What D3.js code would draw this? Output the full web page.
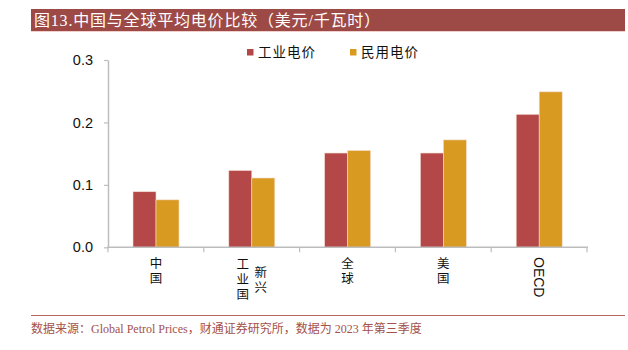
<!DOCTYPE html>
<html><head><meta charset="utf-8">
<script src="https://cdn.jsdelivr.net/npm/d3@7"></script>
<style>body{margin:0;background:#fff}svg{display:block}</style>
</head><body>
<svg id="c" width="628" height="350"></svg>
<script>
const categories = ["中国", "新兴工业国", "全球", "美国", "OECD"];
const seriesNames = ["工业电价", "民用电价"];
const industrial = [0.089, 0.123, 0.151, 0.151, 0.213];
const residential = [0.076, 0.111, 0.155, 0.172, 0.249];
const yTicks = [0, 0.1, 0.2, 0.3];
const colors = ["#b44848", "#d99a22"];
const titleText = "图13.中国与全球平均电价比较（美元/千瓦时）";
const sourceText = "数据来源：Global Petrol Prices，财通证券研究所，数据为 2023 年第三季度";

const svg = d3.select("#c");
const serif = "'Liberation Serif','Noto Sans CJK SC',serif";
const cjk = "'Noto Sans CJK SC',sans-serif";
const sans = "'Liberation Sans',Arial,sans-serif";

// title bar
svg.append("rect").attr("x", 31).attr("y", 9).attr("width", 594).attr("height", 22).attr("fill", "#9d4a46");
svg.append("line").attr("x1", 31).attr("x2", 625).attr("y1", 31.5).attr("y2", 31.5).attr("stroke", "#f0cfcc").attr("stroke-width", 1);
svg.append("text").attr("x", 34).attr("y", 26).attr("fill", "#fff").attr("font-family", serif).attr("font-size", 16).attr("letter-spacing", 0.8).text(titleText);

// footer
svg.append("line").attr("x1", 31).attr("x2", 625).attr("y1", 315.5).attr("y2", 315.5).attr("stroke", "#b8645e").attr("stroke-width", 1);
svg.append("text").attr("x", 31).attr("y", 333).attr("fill", "#a3514c").attr("font-family", serif).attr("font-size", 12).text(sourceText);

const x0 = d3.scaleBand().domain(categories).range([108, 587]).padding(0);
const x1 = d3.scaleBand().domain(seriesNames).range([25, 71]).padding(0);
const y = d3.scaleLinear().domain([0, 0.3]).range([247.3, 60]);

const data = categories.map((c, i) => ({c, vals: [industrial[i], residential[i]]}));

const g = svg.append("g");
const groups = g.selectAll("g.cat").data(data).join("g").attr("transform", d => `translate(${x0(d.c)},0)`);
groups.selectAll("rect").data(d => d.vals.map((v, j) => ({v, s: seriesNames[j], j}))).join("rect")
  .attr("x", d => x1(d.s)).attr("width", x1.bandwidth())
  .attr("y", d => y(d.v)).attr("height", d => y(0) - y(d.v))
  .attr("fill", d => colors[d.j]).attr("stroke", "#f5dccf").attr("stroke-width", 0.6);

// y axis
const yAxis = svg.append("g").attr("transform", "translate(108,0)")
  .call(d3.axisLeft(y).tickValues(yTicks).tickFormat(d3.format(".1f")).tickSize(4).tickSizeOuter(0));
yAxis.select(".domain").attr("stroke", "#bdbdbd").attr("stroke-width", 1.5);
yAxis.selectAll(".tick line").attr("stroke", "#bdbdbd").attr("stroke-width", 1.2);
yAxis.selectAll(".tick text").attr("font-family", sans).attr("font-size", 14.5).attr("fill", "#111").attr("x", -15);

// x axis
const xAxisG = svg.append("g");
xAxisG.append("line").attr("x1", 107).attr("x2", 588).attr("y1", y(0)).attr("y2", y(0)).attr("stroke", "#bdbdbd").attr("stroke-width", 1.5);
const bounds = categories.map(c => x0(c)).concat([x0.range()[1]]);
xAxisG.selectAll("line.tk").data(bounds).join("line").attr("class", "tk")
  .attr("x1", d => d).attr("x2", d => d).attr("y1", y(0)).attr("y2", y(0) + 5)
  .attr("stroke", "#bdbdbd").attr("stroke-width", 1.2);

// x labels (vertical)
const labG = svg.append("g");
function vertCol(cx, top, chars) {
  labG.append("text").attr("x", cx).attr("y", top)
    .style("writing-mode", "vertical-rl").style("text-orientation", "upright")
    .attr("font-family", cjk).attr("font-size", 12.5).attr("letter-spacing", 2.5).attr("fill", "#111").text(chars);
}
categories.forEach(c => {
  const cx = x0(c) + x0.bandwidth() / 2;
  if (c === "OECD") {
    labG.append("text").attr("transform", `translate(${cx - 5},257) rotate(90)`)
      .attr("font-family", sans).attr("font-size", 14).attr("fill", "#111").text(c);
  } else if (c === "新兴工业国") {
    vertCol(cx + 9, 266, c.slice(0, 2));
    vertCol(cx - 9, 258, c.slice(2));
  } else {
    vertCol(cx, 257, c);
  }
});

// legend
const legX = [247, 350];
seriesNames.forEach((s, j) => {
  svg.append("rect").attr("x", legX[j]).attr("y", 49).attr("width", 6.5).attr("height", 6.5).attr("fill", colors[j]);
  svg.append("text").attr("x", legX[j] + 11).attr("y", 57).attr("font-family", cjk).attr("font-size", 13.5).attr("fill", "#111").attr("letter-spacing", 1).text(s);
});
</script>
</body></html>
